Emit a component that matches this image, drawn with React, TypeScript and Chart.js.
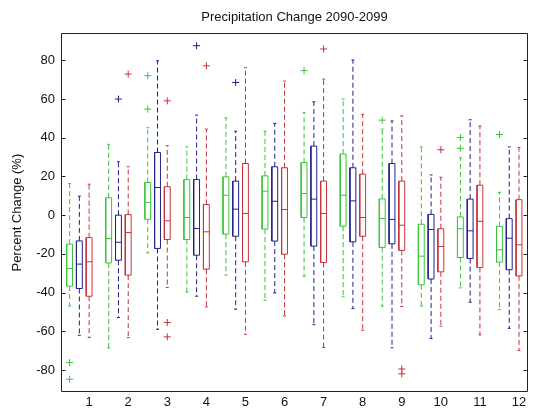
import { useEffect, useRef } from "react";
import { Chart, registerables } from "chart.js";

Chart.register(...registerables);

// categories (months) and y tick labels
const MONTHS = ["1", "2", "3", "4", "5", "6", "7", "8", "9", "10", "11", "12"];
const Y_TICKS = [-80, -60, -40, -20, 0, 20, 40, 60, 80];

// green series: whisker ends, quartiles, median
const GREEN_LO = [-47, -68.6, -19.5, -39.7, -31, -44, -31.6, -42.2, -47, -47, -37.6, -48.8];
const GREEN_Q1 = [-36.7, -24.7, -2.1, -12.6, -9.8, -7.2, -1.2, -5.7, -16.7, -36, -21.9, -24.3];
const GREEN_MED = [-27.6, -12.1, 6.6, -1.2, 10.3, 12.4, 11.2, 10.3, -1.7, -21.2, -7, -17.9];
const GREEN_Q3 = [-15, 9, 16.9, 18.4, 19.8, 20.3, 27.2, 31.6, 8.4, -4.7, -0.9, -5.8];
const GREEN_HI = [16.4, 36.6, 45.2, 35.3, 50.3, 43.4, 53.1, 60, 44.5, 35.3, 29.7, 11.8];
const GREEN_OUT = [[1, -76.2], [1, -84.8], [3, 72.1], [3, 54.8], [7, 74.7], [9, 49.1], [11, 40.1], [11, 34.6], [12, 41.7]];

// blue series
const BLUE_LO = [-62.1, -52.9, -59, -41.9, -48.6, -40.2, -56.6, -48.3, -68.6, -63.8, -45, -58.5];
const BLUE_Q1 = [-37.9, -23.3, -17.2, -20.7, -10.9, -13.4, -16, -13.8, -14.8, -33, -22.4, -28.2];
const BLUE_MED = [-25.3, -14, 14.3, -6.9, 3.1, 7.2, 8.3, 7.4, -2.2, -7.4, -8.1, -11.9];
const BLUE_Q3 = [-13.3, 0, 32.4, 18.4, 17.6, 25, 35.7, 24.5, 26.7, 0.4, 8.3, -1.8];
const BLUE_HI = [9.8, 27.6, 79.8, 51.7, 43.4, 47.4, 58.6, 80.2, 48.7, 20.8, 49.3, 35.3];
const BLUE_OUT = [[2, 60], [4, 87.6], [5, 68.6]];

// red series
const RED_LO = [-63.3, -63.3, -37.4, -47.4, -61.6, -52.1, -68.4, -59.5, -47.2, -57.4, -61.9, -70];
const RED_Q1 = [-41.9, -31, -12.6, -27.9, -24.1, -20.2, -24.5, -10.9, -18.2, -29.3, -27, -31.4];
const RED_MED = [-24.1, -9, -2.9, -8.6, 0.9, 2.9, 0.9, -1.2, -5.2, -16.2, -3.2, -15.3];
const RED_Q3 = [-11.6, 0.3, 14.7, 5.5, 26.7, 24.5, 17.6, 21.2, 17.6, -7, 15.5, 8];
const RED_HI = [16, 25, 35.9, 44.5, 76.2, 69.3, 70.3, 52.1, 51.3, 19.6, 46.1, 35];
const RED_OUT = [[2, 72.9], [3, 59.1], [3, -55.5], [3, -62.9], [4, 77.2], [7, 85.9], [9, -79.5], [9, -82], [10, 33.8]];

const X_MIN = 0.28;
const X_MAX = 12.23;
const Y_MIN = -91.4;
const Y_MAX = 94;

const FONT = { family: "'Liberation Sans', Arial, sans-serif", size: 13 };
const TEXT = "#111";

const SERIES = [
  { color: "#3ac43a", offset: -0.5, lo: GREEN_LO, q1: GREEN_Q1, med: GREEN_MED, q3: GREEN_Q3, hi: GREEN_HI, out: GREEN_OUT },
  { color: "#20208e", offset: -0.25, lo: BLUE_LO, q1: BLUE_Q1, med: BLUE_MED, q3: BLUE_Q3, hi: BLUE_HI, out: BLUE_OUT },
  { color: "#c8323a", offset: 0, lo: RED_LO, q1: RED_Q1, med: RED_MED, q3: RED_Q3, hi: RED_HI, out: RED_OUT },
];

const HALF_BOX = 0.075;
const HALF_CAP = 0.0375;

type Pt = { x: number; y: number | null };

function buildDatasets() {
  const sets: any[] = [];
  for (const s of SERIES) {
    const box: Pt[] = [];
    const med: Pt[] = [];
    const whisk: Pt[] = [];
    const caps: Pt[] = [];
    MONTHS.forEach((_, i) => {
      const x = i + 1 + s.offset;
      box.push(
        { x: x - HALF_BOX, y: s.q1[i] },
        { x: x + HALF_BOX, y: s.q1[i] },
        { x: x + HALF_BOX, y: s.q3[i] },
        { x: x - HALF_BOX, y: s.q3[i] },
        { x: x - HALF_BOX, y: s.q1[i] },
        { x, y: null }
      );
      med.push({ x: x - HALF_BOX, y: s.med[i] }, { x: x + HALF_BOX, y: s.med[i] }, { x, y: null });
      whisk.push(
        { x, y: s.q3[i] },
        { x, y: s.hi[i] },
        { x, y: null },
        { x, y: s.q1[i] },
        { x, y: s.lo[i] },
        { x, y: null }
      );
      caps.push(
        { x: x - HALF_CAP, y: s.hi[i] },
        { x: x + HALF_CAP, y: s.hi[i] },
        { x, y: null },
        { x: x - HALF_CAP, y: s.lo[i] },
        { x: x + HALF_CAP, y: s.lo[i] },
        { x, y: null }
      );
    });
    const line = { borderColor: s.color, borderWidth: 1, pointRadius: 0, pointHitRadius: 0, spanGaps: false, fill: false, tension: 0 };
    sets.push({ ...line, data: whisk, borderDash: [5, 3] });
    sets.push({ ...line, data: caps });
    sets.push({ ...line, data: box });
    sets.push({ ...line, data: med });
    sets.push({
      data: s.out.map(([m, v]) => ({ x: m + s.offset, y: v })),
      showLine: false,
      pointStyle: "cross",
      pointRadius: 3.5,
      pointBorderWidth: 1,
      pointBorderColor: s.color,
      borderColor: s.color,
      pointHitRadius: 0,
    });
  }
  return sets;
}

const framePlugin = {
  id: "frame",
  afterDatasetsDraw(chart: any) {
    const { ctx, chartArea, scales } = chart;
    const { left, right, top, bottom } = chartArea;
    const l = Math.round(left) + 0.5;
    const r = Math.round(right) - 0.5;
    const t = Math.round(top) + 0.5;
    const b = Math.round(bottom) - 0.5;
    ctx.save();
    ctx.strokeStyle = "#222";
    ctx.lineWidth = 1;
    ctx.setLineDash([]);
    ctx.beginPath();
    ctx.rect(l, t, r - l, b - t);
    for (const v of Y_TICKS) {
      const py = Math.round(scales.y.getPixelForValue(v)) + 0.5;
      ctx.moveTo(l, py);
      ctx.lineTo(l + 4, py);
      ctx.moveTo(r, py);
      ctx.lineTo(r - 4, py);
    }
    ctx.stroke();
    ctx.restore();
  },
};

export default function App() {
  const canvasRef = useRef<HTMLCanvasElement | null>(null);

  useEffect(() => {
    if (!canvasRef.current) return;
    const chart = new Chart(canvasRef.current, {
      type: "line",
      data: { datasets: buildDatasets() },
      plugins: [framePlugin],
      options: {
        animation: false,
        responsive: true,
        maintainAspectRatio: false,
        layout: { padding: { right: 3, left: 0, top: 0, bottom: 0 } },
        plugins: {
          legend: { display: false },
          tooltip: { enabled: false },
          title: {
            display: true,
            text: "Precipitation Change 2090-2099",
            color: TEXT,
            font: { ...FONT, weight: "normal" },
            padding: { top: 10, bottom: 7.7 },
            fullSize: false,
          },
        },
        scales: {
          x: {
            type: "linear",
            min: X_MIN,
            max: X_MAX,
            afterBuildTicks: (s: any) => {
              s.ticks = MONTHS.map((_, i) => ({ value: i + 1 }));
            },
            afterFit: (s: any) => {
              s.height = 22;
            },
            ticks: {
              callback: (v: any) => MONTHS[Math.round(Number(v)) - 1],
              font: FONT,
              color: TEXT,
              padding: 3,
              maxRotation: 0,
              autoSkip: false,
            },
            grid: { display: false, drawTicks: false },
            border: { display: false },
          },
          y: {
            type: "linear",
            min: Y_MIN,
            max: Y_MAX,
            afterBuildTicks: (s: any) => {
              s.ticks = Y_TICKS.map((v) => ({ value: v }));
            },
            afterFit: (s: any) => {
              s.width = 61;
            },
            ticks: { font: FONT, color: TEXT, padding: 6 },
            grid: { display: false, drawTicks: false },
            border: { display: false },
            title: {
              display: true,
              text: "Percent Change (%)",
              color: TEXT,
              font: FONT,
              padding: { top: 10, bottom: 0 },
            },
          },
        },
      } as any,
    });
    return () => chart.destroy();
  }, []);

  return (
    <div style={{ position: "absolute", left: 0, top: 0, width: 533, height: 414, background: "#fff" }}>
      <canvas ref={canvasRef} />
    </div>
  );
}
